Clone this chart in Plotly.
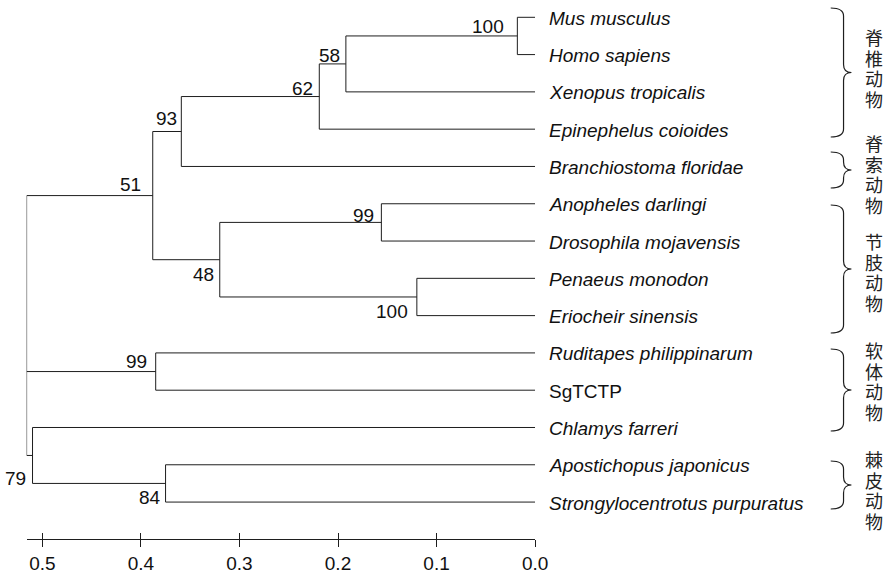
import plotly.graph_objects as go

# ---------------- data ----------------
leaf_names = ["Mus musculus", "Homo sapiens", "Xenopus tropicalis", "Epinephelus coioides",
              "Branchiostoma floridae", "Anopheles darlingi", "Drosophila mojavensis",
              "Penaeus monodon", "Eriocheir sinensis", "Ruditapes philippinarum", "SgTCTP",
              "Chlamys farreri", "Apostichopus japonicus", "Strongylocentrotus purpuratus"]
leaf_italic = [True, True, True, True, True, True, True, True, True, True, False, True, True, True]

node_names = ["mm_hs", "mam_xen", "tetra_fish", "vert_amph", "ins", "crus", "arth",
              "chord_arth", "moll", "echi", "chl_echi", "root"]
node_children = [["Mus musculus", "Homo sapiens"],
                 ["mm_hs", "Xenopus tropicalis"],
                 ["mam_xen", "Epinephelus coioides"],
                 ["tetra_fish", "Branchiostoma floridae"],
                 ["Anopheles darlingi", "Drosophila mojavensis"],
                 ["Penaeus monodon", "Eriocheir sinensis"],
                 ["ins", "crus"],
                 ["vert_amph", "arth"],
                 ["Ruditapes philippinarum", "SgTCTP"],
                 ["Apostichopus japonicus", "Strongylocentrotus purpuratus"],
                 ["Chlamys farreri", "echi"],
                 ["chord_arth", "moll", "chl_echi"]]
node_heights = [0.018, 0.192, 0.219, 0.359, 0.156, 0.120, 0.320, 0.388, 0.385, 0.375, 0.510, 0.516]
node_support = [100, 58, 62, 93, 99, 100, 48, 51, 99, 84, 79, None]

group_labels = ["脊椎动物", "脊索动物", "节肢动物", "软体动物", "棘皮动物"]

tick_values = [0.5, 0.4, 0.3, 0.2, 0.1, 0.0]

# ---------------- style ----------------
W, H = 893, 577
X0_PX, PX_PER_UNIT = 543.0, 1000.0
AXIS_PX = 539.0
LEAF0_PX, LEAF_STEP = 17.3, 37.29
LINE = "#1e1e1e"
FONT = "Liberation Sans, Arial, sans-serif"
CJK = "Noto Sans CJK SC"

# bootstrap label offsets (pixels) per node
support_dx = [-11, -4, -4, -2, -5, -7, -4, -10, -7, -3, -5, 0]
support_dy = [-9, -8, -8, -13, -7, 15, 15, -11, -10, 14, 23, 0]

# braces (pixel extents) and CJK label block centres
brace_top = [8, 152, 205, 349, 461]
brace_bot = [137, 188, 333, 431, 509]
label_mid = [68, 174, 272, 381, 490]
CJK_SIZE = 18
CJK_PITCH = 20.7
CJK_X = 877

# ---------------- layout of tree ----------------
height = {n: 0.0 for n in leaf_names}
ypos = {n: float(i) for i, n in enumerate(leaf_names)}
children = {}
for n, ch, h in zip(node_names, node_children, node_heights):
    height[n] = h
    children[n] = ch
for n in node_names:  # children always defined before parents
    ypos[n] = sum(ypos[c] for c in children[n]) / len(children[n])

xs, ys = [], []
for n in node_names:
    cy = [ypos[c] for c in children[n]]
    xs += [height[n], height[n], None]
    ys += [min(cy), max(cy), None]
    for c in children[n]:
        xs += [height[n], height[c], None]
        ys += [ypos[c], ypos[c], None]

fig = go.Figure()
fig.add_trace(go.Scatter(x=xs, y=ys, mode="lines", line=dict(color=LINE, width=1),
                         hoverinfo="skip", showlegend=False, cliponaxis=False))
fig.add_trace(go.Scatter(x=[0], y=[0], xaxis="x2", mode="markers", marker=dict(opacity=0),
                         hoverinfo="skip", showlegend=False))

ann = []
for n, it in zip(leaf_names, leaf_italic):
    txt = "<i>%s</i>" % n if it else n
    ann.append(dict(x=0, y=ypos[n], xref="x", yref="y", text=txt, showarrow=False,
                    xanchor="left", yanchor="middle", xshift=12, yshift=-1,
                    font=dict(family=FONT, size=19, color="#111")))
for n, s, dx, dy in zip(node_names, node_support, support_dx, support_dy):
    if s is None:
        continue
    ann.append(dict(x=height[n], y=ypos[n], xref="x", yref="y", text=str(s), showarrow=False,
                    xanchor="right", yanchor="middle", xshift=dx, yshift=-dy,
                    font=dict(family=FONT, size=19, color="#111")))

def px2paper(px, py):
    return px / W, 1 - py / AXIS_PX

shapes = []
xl, xv, xt, r = 843.0, 856.0, 864.0, 8.0
for t, b in zip(brace_top, brace_bot):
    m = (t + b) / 2
    pts = [("M", xl, t), ("Q", xv, t, xv, t + r), ("L", xv, m - r), ("Q", xv, m, xt, m),
           ("Q", xv, m, xv, m + r), ("L", xv, b - r), ("Q", xv, b, xl, b)]
    path = ""
    for p in pts:
        coords = p[1:]
        parts = []
        for i in range(0, len(coords), 2):
            a, bb = px2paper(coords[i], coords[i + 1])
            parts.append("%.5f,%.5f" % (a, bb))
        path += p[0] + " " + " ".join(parts) + " "
    shapes.append(dict(type="path", path=path.strip(), xref="paper", yref="paper",
                       line=dict(color=LINE, width=1.2)))

for lab, mid in zip(group_labels, label_mid):
    first = mid - CJK_PITCH * (len(lab) - 1) / 2
    for k, ch in enumerate(lab):
        px, py = px2paper(CJK_X, first + k * CJK_PITCH)
        ann.append(dict(x=px, y=py, xref="paper", yref="paper", text=ch, showarrow=False,
                        xanchor="left", yanchor="middle", borderpad=0,
                        font=dict(family=CJK, size=CJK_SIZE, color="#222")))

root_h = node_heights[-1]
dom = [(X0_PX - PX_PER_UNIT * root_h) / W, X0_PX / W]
ymin = -LEAF0_PX / LEAF_STEP
ymax = (AXIS_PX - LEAF0_PX) / LEAF_STEP

axis_common = dict(domain=dom, range=[root_h, 0], tickvals=tick_values, showgrid=False,
                   zeroline=False, tickcolor=LINE, tickwidth=1)
fig.update_layout(
    width=W, height=H, paper_bgcolor="white", plot_bgcolor="white", autosize=False,
    margin=dict(l=0, r=0, t=0, b=H - AXIS_PX, pad=0),
    xaxis=dict(**axis_common, showline=True, linecolor=LINE, linewidth=1, ticks="outside",
               ticklen=7, tickformat=".1f",
               tickfont=dict(family=FONT, size=19, color="#111")),
    xaxis2=dict(**axis_common, overlaying="x", matches="x", side="bottom", anchor="y",
                ticks="inside", ticklen=6, showticklabels=False, showline=False),
    yaxis=dict(range=[ymax, ymin], visible=False),
    annotations=ann, shapes=shapes,
)
fig.write_html(
    "out.html",
    config={"responsive": False, "displayModeBar": False},
    post_script="document.body.style.margin='0';document.body.style.overflow='hidden';"
                "Plotly.relayout('{plot_id}', {width: 893, height: 577});",
)
